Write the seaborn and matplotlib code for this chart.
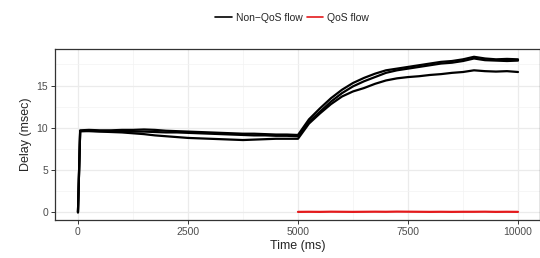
import numpy as np
import pandas as pd
import matplotlib
matplotlib.use("Agg")
import matplotlib.pyplot as plt
from matplotlib.ticker import MultipleLocator
from matplotlib.lines import Line2D
import seaborn as sns

time_ms = [0, 50, 250, 500, 750, 1000, 1250, 1500, 1750, 2000, 2250, 2500, 2750, 3000,
           3250, 3500, 3750, 4000, 4250, 4500, 4750, 5000, 5250, 5500, 5750, 6000, 6250,
           6500, 6750, 7000, 7250, 7500, 7750, 8000, 8250, 8500, 8750, 9000, 9250, 9500,
           9750, 10000]

nonqos_1 = [0, 9.7, 9.75, 9.7, 9.7, 9.75, 9.75, 9.8, 9.75, 9.65, 9.6, 9.55, 9.5, 9.45,
            9.4, 9.35, 9.3, 9.3, 9.25, 9.2, 9.2, 9.15, 11.0, 12.3, 13.5, 14.5, 15.3,
            15.9, 16.4, 16.8, 17.0, 17.2, 17.4, 17.6, 17.8, 17.9, 18.1, 18.4, 18.2, 18.1,
            18.15, 18.1]
nonqos_2 = [0, 9.6, 9.65, 9.6, 9.6, 9.6, 9.55, 9.55, 9.5, 9.45, 9.45, 9.4, 9.35, 9.3,
            9.25, 9.2, 9.15, 9.1, 9.1, 9.05, 9.05, 9.0, 10.7, 11.9, 13.1, 14.1, 14.9,
            15.5, 16.0, 16.5, 16.8, 17.0, 17.2, 17.4, 17.6, 17.7, 17.9, 18.2, 18.0, 17.95,
            17.9, 17.95]
nonqos_3 = [0, 9.6, 9.6, 9.55, 9.5, 9.45, 9.35, 9.25, 9.1, 9.0, 8.9, 8.8, 8.75, 8.7,
            8.65, 8.6, 8.55, 8.6, 8.65, 8.7, 8.7, 8.7, 10.5, 11.7, 12.8, 13.7, 14.3,
            14.7, 15.2, 15.6, 15.85, 16.0, 16.1, 16.25, 16.35, 16.5, 16.6, 16.8, 16.7, 16.65,
            16.7, 16.6]

qos_time = [5000, 5250, 5500, 5750, 6000, 6250, 6500, 6750, 7000, 7250, 7500, 7750, 8000,
            8250, 8500, 8750, 9000, 9250, 9500, 9750, 10000]
qos_delay = [0.05, 0.06, 0.05, 0.07, 0.06, 0.05, 0.06, 0.07, 0.06, 0.08, 0.07, 0.06, 0.05,
             0.06, 0.05, 0.06, 0.06, 0.07, 0.05, 0.06, 0.05]

labels = ["Non\u2212QoS flow", "QoS flow"]
colors = ["black", "#E41A1C"]

rows = []
for run, vals in enumerate([nonqos_1, nonqos_2, nonqos_3]):
    for t, v in zip(time_ms, vals):
        rows.append((t, v, labels[0], run))
for t, v in zip(qos_time, qos_delay):
    rows.append((t, v, labels[1], 10))
df = pd.DataFrame(rows, columns=["time", "delay", "flow", "run"])

sns.set_theme(style="white")
plt.rcParams['font.family'] = ['Liberation Sans', 'DejaVu Sans']

fig = plt.figure(figsize=(5.4, 2.58), dpi=100)
ax = fig.add_axes([0.102, 0.147, 0.898, 0.664])

sns.lineplot(data=df, x="time", y="delay", hue="flow", units="run", estimator=None,
             palette=dict(zip(labels, colors)), linewidth=1.6, ax=ax, legend=False)

ax.set_xlim(-520, 10500)
ax.set_ylim(-0.92, 19.35)
ax.xaxis.set_major_locator(MultipleLocator(2500))
ax.xaxis.set_minor_locator(MultipleLocator(1250))
ax.yaxis.set_major_locator(MultipleLocator(5))
ax.yaxis.set_minor_locator(MultipleLocator(2.5))
ax.grid(True, which="major", color="#EBEBEB", linewidth=0.9)
ax.grid(True, which="minor", color="#F3F3F3", linewidth=0.5)
ax.set_axisbelow(True)
for s in ax.spines.values():
    s.set_color("#333333")
    s.set_linewidth(0.9)
ax.tick_params(axis="both", which="major", length=3, width=0.7, color="#333333",
               labelsize=7.5, labelcolor="#4D4D4D", pad=2, bottom=True, left=True)
ax.tick_params(axis="both", which="minor", length=0)
ax.set_xlabel("Time (ms)", fontsize=9, labelpad=2)
ax.set_ylabel("Delay (msec)", fontsize=9, labelpad=3)

handles = [Line2D([0], [0], color=c, linewidth=1.2) for c in colors]
fig.legend(handles, labels, loc="center", bbox_to_anchor=(0.541, 0.932), ncol=2,
           frameon=False, fontsize=7.5, handlelength=1.6, handletextpad=0.4,
           columnspacing=0.4)

fig.savefig("out.png", dpi=100)
